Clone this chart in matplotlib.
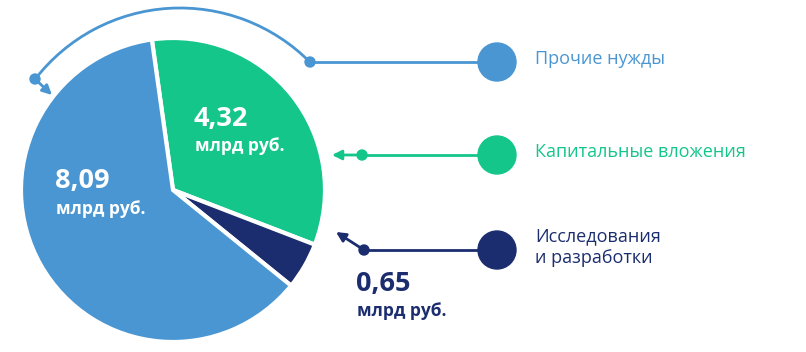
import numpy as np
import matplotlib.pyplot as plt
from matplotlib.patches import Arc, Circle

plt.rcParams['font.family'] = ['Open Sans', 'DejaVu Sans']

# data
categories = ["Капитальные вложения", "Исследования\nи разработки", "Прочие нужды"]
values = [4.32, 0.65, 8.09]
value_labels = ["4,32", "0,65", "8,09"]
unit = "млрд руб."

BLUE = "#4a96d2"
GREEN = "#14c68a"
NAVY = "#1b2d6e"
colors = [GREEN, NAVY, BLUE]

W, H = 806, 352
fig = plt.figure(figsize=(W / 100, H / 100), dpi=100)
ax = fig.add_axes([0, 0, 1, 1])

cx, cy, R = 173, H - 190, 152
ax.pie(values, colors=colors, startangle=98, counterclock=False,
       center=(cx, cy), radius=R,
       wedgeprops=dict(edgecolor="white", linewidth=3))

ax.set_xlim(0, W)
ax.set_ylim(0, H)
ax.set_aspect("equal")
ax.axis("off")

# value labels
big, small = 19.5, 12.5
ax.text(194, H - 119, value_labels[0], color="white", fontsize=big,
        fontweight="bold", va="center", ha="left")
ax.text(195, H - 146, unit, color="white", fontsize=small,
        fontweight="bold", va="center", ha="left")
ax.text(55, H - 181, value_labels[2], color="white", fontsize=big,
        fontweight="bold", va="center", ha="left")
ax.text(56, H - 209, unit, color="white", fontsize=small,
        fontweight="bold", va="center", ha="left")
ax.text(356, H - 284, value_labels[1], color=NAVY, fontsize=big,
        fontweight="bold", va="center", ha="left")
ax.text(357, H - 311, unit, color=NAVY, fontsize=small,
        fontweight="bold", va="center", ha="left")

# legend rows: big dot, line, small dot, arrow
rows = [
    (H - 62, BLUE, categories[2]),
    (H - 155, GREEN, categories[0]),
    (H - 250, NAVY, categories[1]),
]
for y, c, name in rows:
    ax.add_patch(Circle((497, y), 19, color=c, zorder=3))
    ax.text(535, y + 3, name, color=c, fontsize=13, va="center",
            ha="left", linespacing=1.3)

# blue: line to arc
y0 = rows[0][0]
ax.plot([310, 497], [y0, y0], color=BLUE, lw=2)
ax.add_patch(Circle((310, y0), 5, color=BLUE, zorder=3))
ax.add_patch(Arc((180, H - 191), 2 * 183, 2 * 183, theta1=44.8, theta2=142.3,
                 color=BLUE, lw=2))
ax.add_patch(Circle((35, H - 79), 5, color=BLUE, zorder=3))
ax.annotate("", xy=(52, H - 95), xytext=(35, H - 79),
            arrowprops=dict(arrowstyle="-|>", color=BLUE, lw=2,
                            mutation_scale=14, shrinkA=0, shrinkB=0))

# green
y1 = rows[1][0]
ax.plot([362, 497], [y1, y1], color=GREEN, lw=2)
ax.add_patch(Circle((362, y1), 5, color=GREEN, zorder=3))
ax.annotate("", xy=(332, y1), xytext=(362, y1),
            arrowprops=dict(arrowstyle="-|>", color=GREEN, lw=2,
                            mutation_scale=14, shrinkA=0, shrinkB=0))

# navy
y2 = rows[2][0]
ax.plot([364, 497], [y2, y2], color=NAVY, lw=2)
ax.add_patch(Circle((364, y2), 5, color=NAVY, zorder=3))
ax.annotate("", xy=(336, H - 232), xytext=(364, y2),
            arrowprops=dict(arrowstyle="-|>", color=NAVY, lw=2,
                            mutation_scale=14, shrinkA=0, shrinkB=0))

fig.savefig("out.png", dpi=100, facecolor="white")
